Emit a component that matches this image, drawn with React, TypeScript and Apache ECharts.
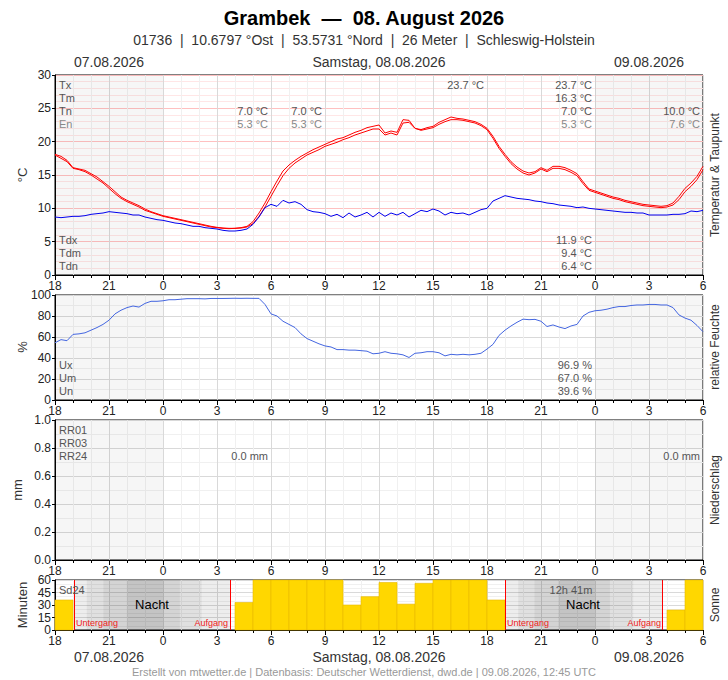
import { useEffect, useRef } from 'react'
import * as echarts from 'echarts'

// 20-minute steps from 07.08. 18:00 UTC to 09.08. 06:00 UTC
const tempA = [
  18.1, 17.8, 17.2, 16.1, 15.9, 15.7, 15.2, 14.7, 14.0,
  13.3, 12.5, 11.7, 11.2, 10.8, 10.4, 9.9, 9.5, 9.2,
  8.9, 8.7, 8.5, 8.3, 8.1, 7.9, 7.7, 7.5, 7.3,
  7.15, 7.05, 7.0, 7.0, 7.1, 7.3, 8.0, 9.3, 10.8,
  12.5, 14.1, 15.6, 16.5, 17.2, 17.8, 18.3, 18.8, 19.2,
  19.6, 20.0, 20.4, 20.6, 21.0, 21.4, 21.7, 22.1, 22.3,
  22.5, 21.3, 21.6, 21.4, 23.3, 23.2, 22.0, 21.8, 22.1,
  22.3, 22.9, 23.3, 23.7, 23.5, 23.4, 23.2, 23.0, 22.6,
  22.0, 20.8, 19.3, 18.1, 17.0, 16.2, 15.6, 15.3, 15.5,
  16.1, 15.7, 16.3, 16.3, 16.1, 15.7, 15.2, 14.0, 12.9,
  12.6, 12.3, 12.0, 11.7, 11.5, 11.2, 11.0, 10.8, 10.6,
  10.5, 10.4, 10.3, 10.4, 10.8, 11.8, 13.0, 13.8, 14.8,
  16.3,
]
const tempB = [
  18.0, 17.5, 17.0, 16.0, 15.8, 15.5, 15.0, 14.4, 13.8,
  13.0, 12.2, 11.5, 11.0, 10.6, 10.2, 9.7, 9.4, 9.1,
  8.8, 8.6, 8.4, 8.2, 8.0, 7.8, 7.6, 7.4, 7.2,
  7.1, 7.0, 6.95, 7.0, 7.05, 7.2, 7.7, 8.8, 10.2,
  11.8, 13.4, 14.9, 16.0, 16.8, 17.4, 18.0, 18.4, 18.8,
  19.3, 19.6, 19.9, 20.3, 20.6, 21.0, 21.3, 21.6, 21.9,
  21.9, 21.0, 21.3, 21.0, 22.8, 22.9, 22.0, 21.7, 21.9,
  22.1, 22.6, 23.0, 23.3, 23.3, 23.2, 23.0, 22.8, 22.4,
  21.8, 20.5, 19.0, 17.8, 16.7, 15.9, 15.3, 15.0, 15.3,
  15.9, 15.5, 16.0, 16.0, 15.8, 15.4, 14.9, 13.7, 12.7,
  12.4, 12.1, 11.8, 11.5, 11.3, 11.0, 10.8, 10.6, 10.4,
  10.3, 10.2, 10.1, 10.2, 10.5, 11.3, 12.5, 13.3, 14.3,
  15.8,
]
const dewPoint = [
  8.7, 8.6, 8.7, 8.8, 8.8, 8.9, 9.1, 9.2, 9.3,
  9.5, 9.4, 9.3, 9.2, 9.0, 9.0, 8.7, 8.5, 8.3,
  8.2, 8.0, 7.8, 7.7, 7.5, 7.3, 7.3, 7.1, 7.0,
  6.9, 6.7, 6.6, 6.6, 6.7, 6.9, 7.6, 8.7, 10.1,
  10.6, 10.3, 11.2, 10.8, 11.0, 10.6, 9.8, 9.5, 9.4,
  9.2, 8.8, 9.1, 8.6, 9.3, 8.7, 9.0, 9.4, 8.7,
  9.4, 8.8, 9.3, 9.0, 9.4, 8.7, 9.2, 9.7, 9.5,
  9.9, 9.6, 9.0, 9.4, 9.2, 9.3, 9.0, 9.4, 9.8,
  10.0, 11.1, 11.5, 11.9, 11.7, 11.5, 11.4, 11.3, 11.1,
  11.0, 10.8, 10.7, 10.5, 10.4, 10.3, 10.1, 10.2, 10.0,
  9.9, 9.8, 9.7, 9.6, 9.5, 9.4, 9.4, 9.3, 9.3,
  9.0, 9.0, 9.0, 9.0, 9.1, 9.1, 9.2, 9.6, 9.5,
  9.7,
]
const humidity = [
  54.5, 57.5, 56.5, 62.5, 63.0, 64.0, 66.5, 69.0, 72.0,
  76.0, 82.0, 85.5, 88.0, 89.5, 88.5, 92.0, 94.0, 94.0,
  94.5, 95.5, 95.5, 96.0, 96.5, 96.5, 96.5, 96.3, 96.7,
  96.7, 96.7, 96.8, 96.9, 96.8, 96.9, 96.8, 96.8, 91.0,
  82.0, 80.0, 75.0, 72.0, 69.0, 63.0, 58.5, 56.0, 53.5,
  51.5, 50.5, 48.0, 48.0, 47.5, 47.5, 47.0, 46.5, 44.0,
  44.5, 46.0, 44.5, 44.0, 43.0, 40.5, 44.5, 45.0, 46.0,
  46.0, 45.0, 42.0, 43.5, 43.0, 43.5, 43.0, 43.5, 44.5,
  48.5, 53.0, 61.5, 66.5, 70.5, 74.0, 77.0, 76.5, 76.8,
  75.0, 70.0, 71.5, 69.5, 68.0, 70.5, 72.0, 80.0, 83.5,
  85.0, 85.5, 86.5, 88.0, 89.0, 89.0, 90.0, 90.5, 90.5,
  91.0, 91.0, 90.5, 90.5, 88.0, 81.0, 78.0, 76.0, 71.0,
  65.0,
]
// hourly sums, 18-19 UTC first
const precip = [
  0, 0, 0, 0, 0, 0, 0, 0, 0, 0, 0, 0, 0, 0, 0, 0, 0, 0,
  0, 0, 0, 0, 0, 0, 0, 0, 0, 0, 0, 0, 0, 0, 0, 0, 0, 0,
]
const sunMinutes = [
  36, 0, 0, 0, 0, 0, 0, 0, 0, 0, 33, 60, 60, 60, 60, 60, 30, 40,
  57, 31, 56, 60, 60, 60, 36, 0, 0, 0, 0, 0, 0, 0, 0, 0, 24, 60,
]
const hourLabels = ['18', '21', '0', '3', '6', '9', '12', '15', '18', '21', '0', '3', '6']

// hours after 07.08. 18:00
const dayShade = [[0, 6], [30, 36]]
const sunEvents = [1.07, 9.72, 25.04, 33.74]
const nightEdges = [
  [1.07, 1.76, 2.68, 3.98, 6.02, 6.94, 8.15, 9.72],
  [25.04, 25.73, 26.63, 27.96, 30.0, 30.83, 32.13, 33.74],
]
const nightShade = [0.07, 0.12, 0.17, 0.23, 0.17, 0.12, 0.07]

const tempLabels = ['Tx', 'Tm', 'Tn', 'En']
const dewLabels = ['Tdx', 'Tdm', 'Tdn']
const humLabels = ['Ux', 'Um', 'Un']
const rainLabels = ['RR01', 'RR03', 'RR24']
const tempStats = ['23.7 °C', '16.3 °C', '7.0 °C', '5.3 °C']
const dewStats = ['11.9 °C', '9.4 °C', '6.4 °C']
const humStats = ['96.9 %', '67.0 %', '39.6 %']

const FONT = "'Liberation Sans', Arial, sans-serif"
const STEP = 1 / 3

const grids = [
  { top: 75, height: 200 },
  { top: 295, height: 105 },
  { top: 420, height: 140 },
  { top: 580, height: 50 },
]

function txt(x: number, y: number, text: string, style: any = {}) {
  return {
    type: 'text',
    x,
    y,
    z: 100,
    silent: true,
    style: {
      text,
      fill: '#555',
      fontSize: 11,
      fontFamily: FONT,
      align: 'left',
      verticalAlign: 'middle',
      ...style,
    },
  }
}

function vtxt(x: number, y: number, text: string, fontSize = 13) {
  return {
    type: 'text',
    x,
    y,
    z: 100,
    rotation: Math.PI / 2,
    silent: true,
    style: { text, fill: '#333', fontSize, fontFamily: FONT, align: 'center', verticalAlign: 'middle' },
  }
}

const shadeArea = {
  silent: true,
  itemStyle: { color: 'rgba(0,0,0,0.035)' },
  data: dayShade.map(([a, b]) => [{ xAxis: a }, { xAxis: b }]),
}

function xAxisFor(i: number) {
  return {
    type: 'value',
    gridIndex: i,
    min: 0,
    max: 36,
    interval: 3,
    axisLine: { show: true, onZero: false, lineStyle: { color: '#000' } },
    axisTick: { show: true, length: 5, lineStyle: { color: '#000' } },
    minorTick: { show: true, splitNumber: 3, length: 3, lineStyle: { color: '#000' } },
    axisLabel: {
      color: '#222',
      fontSize: 12,
      fontFamily: FONT,
      margin: 5,
      lineHeight: 12,
      formatter: (v: number) => hourLabels[Math.round(v / 3)] ?? '',
    },
    splitLine: { show: true, lineStyle: { color: '#d9d9d9' } },
    minorSplitLine: { show: true, lineStyle: { color: '#f0f0f0' } },
  }
}

function yAxisFor(i: number, max: number, interval: number, minor: number, major: string, minorColor: string, digits = 0) {
  return {
    type: 'value',
    gridIndex: i,
    min: 0,
    max,
    interval,
    axisLine: { show: true, lineStyle: { color: '#000' } },
    axisTick: { show: true, length: 3, lineStyle: { color: '#000' } },
    minorTick: { show: false, splitNumber: minor },
    axisLabel: {
      color: '#222',
      fontSize: 12,
      fontFamily: FONT,
      margin: 4,
      lineHeight: 10,
      formatter: (v: number) => v.toFixed(digits),
    },
    splitLine: { show: true, lineStyle: { color: major } },
    minorSplitLine: { show: true, lineStyle: { color: minorColor } },
  }
}

const pairs = (arr: number[]) => arr.map((v, i) => [i * STEP, v])

function hourRects(color: string, stroke: string) {
  return (params: any, api: any) => {
    const t = api.value(0)
    const v = api.value(1)
    if (!v) return null
    const p0 = api.coord([t, v])
    const p1 = api.coord([t + 1, 0])
    return {
      type: 'rect',
      shape: { x: p0[0], y: p0[1], width: p1[0] - p0[0], height: p1[1] - p0[1] },
      style: { fill: color, stroke, lineWidth: 0.6 },
    }
  }
}

function WeatherChart() {
  const chartRef = useRef<HTMLDivElement>(null)

  useEffect(() => {
    if (!chartRef.current) return
    const chart = echarts.init(chartRef.current, null, { renderer: 'svg' })

    const nightAreas = nightEdges.flatMap((edges) =>
      nightShade.map((a, k) => [
        { xAxis: edges[k], itemStyle: { color: `rgba(0,0,0,${a})` } },
        { xAxis: edges[k + 1] },
      ]),
    )

    const graphics: any[] = [
      txt(364, 18, 'Grambek  —  08. August 2026', { align: 'center', fontSize: 20, fontWeight: 'bold', fill: '#000' }),
      txt(364, 40, '01736  |  10.6797 °Ost  |  53.5731 °Nord  |  26 Meter  |  Schleswig-Holstein', {
        align: 'center', fontSize: 14, fill: '#333',
      }),
      txt(109, 62, '07.08.2026', { align: 'center', fontSize: 14, fill: '#333' }),
      txt(379, 62, 'Samstag, 08.08.2026', { align: 'center', fontSize: 14, fill: '#333' }),
      txt(649, 62, '09.08.2026', { align: 'center', fontSize: 14, fill: '#333' }),
      txt(109, 657, '07.08.2026', { align: 'center', fontSize: 14, fill: '#333' }),
      txt(379, 657, 'Samstag, 08.08.2026', { align: 'center', fontSize: 14, fill: '#333' }),
      txt(649, 657, '09.08.2026', { align: 'center', fontSize: 14, fill: '#333' }),
      txt(364, 672, 'Erstellt von mtwetter.de | Datenbasis: Deutscher Wetterdienst, dwd.de | 09.08.2026, 12:45 UTC', {
        align: 'center', fontSize: 11, fill: '#999',
      }),
      vtxt(22, 175, '°C'),
      vtxt(22, 347, '%'),
      vtxt(17, 490, 'mm'),
      vtxt(22, 605, 'Minuten'),
      vtxt(715, 175, 'Temperatur & Taupunkt', 12),
      vtxt(715, 347, 'relative Feuchte', 12),
      vtxt(715, 490, 'Niederschlag', 12),
      vtxt(715, 605, 'Sonne', 12),
      ...tempLabels.map((s, k) => txt(59, 85 + k * 13, s, k === 3 ? { fill: '#888' } : {})),
      ...dewLabels.map((s, k) => txt(59, 240 + k * 13, s)),
      ...humLabels.map((s, k) => txt(59, 365 + k * 13, s)),
      ...rainLabels.map((s, k) => txt(59, 430 + k * 13, s)),
      txt(268, 111, '7.0 °C', { align: 'right' }),
      txt(268, 124, '5.3 °C', { align: 'right', fill: '#888' }),
      txt(322, 111, '7.0 °C', { align: 'right' }),
      txt(322, 124, '5.3 °C', { align: 'right', fill: '#888' }),
      txt(484, 85, '23.7 °C', { align: 'right' }),
      ...tempStats.map((s, k) => txt(592, 85 + k * 13, s, { align: 'right', fill: k === 3 ? '#888' : '#555' })),
      ...dewStats.map((s, k) => txt(592, 240 + k * 13, s, { align: 'right' })),
      txt(700, 111, '10.0 °C', { align: 'right' }),
      txt(700, 124, '7.6 °C', { align: 'right', fill: '#888' }),
      ...humStats.map((s, k) => txt(592, 365 + k * 13, s, { align: 'right' })),
      txt(268, 456, '0.0 mm', { align: 'right' }),
      txt(700, 456, '0.0 mm', { align: 'right' }),
      txt(59, 590, 'Sd24', { fontSize: 11 }),
      txt(571, 590, '12h 41m', { align: 'center', fontSize: 11 }),
      txt(152, 604, 'Nacht', { align: 'center', fontSize: 13, fill: '#000' }),
      txt(583, 604, 'Nacht', { align: 'center', fontSize: 13, fill: '#000' }),
      txt(76, 623, 'Untergang', { fontSize: 9, fill: '#ee2222' }),
      txt(228, 623, 'Aufgang', { align: 'right', fontSize: 9, fill: '#ee2222' }),
      txt(507, 623, 'Untergang', { fontSize: 9, fill: '#ee2222' }),
      txt(661, 623, 'Aufgang', { align: 'right', fontSize: 9, fill: '#ee2222' }),
    ]

    chart.setOption({
      animation: false,
      grid: grids.map((g) => ({
        left: 55,
        width: 648,
        top: g.top,
        height: g.height,
        show: true,
        borderColor: '#000',
        borderWidth: 1,
        backgroundColor: 'transparent',
      })),
      xAxis: grids.map((_, i) => xAxisFor(i)),
      yAxis: [
        yAxisFor(0, 30, 5, 5, '#ffc0c0', '#ffe6e6'),
        yAxisFor(1, 100, 20, 2, '#d9d9d9', '#f0f0f0'),
        yAxisFor(2, 1, 0.2, 2, '#d9d9d9', '#f0f0f0', 1),
        yAxisFor(3, 60, 15, 3, '#d9d9d9', '#f0f0f0'),
      ],
      series: [
        {
          type: 'line',
          xAxisIndex: 0,
          yAxisIndex: 0,
          data: pairs(tempA),
          symbol: 'none',
          lineStyle: { color: '#ff0000', width: 1 },
          markArea: shadeArea,
          z: 3,
        },
        {
          type: 'line',
          xAxisIndex: 0,
          yAxisIndex: 0,
          data: pairs(tempB),
          symbol: 'none',
          lineStyle: { color: '#ff0000', width: 1 },
          z: 3,
        },
        {
          type: 'line',
          xAxisIndex: 0,
          yAxisIndex: 0,
          data: pairs(dewPoint),
          symbol: 'none',
          lineStyle: { color: '#0000ee', width: 1 },
          z: 3,
        },
        {
          type: 'line',
          xAxisIndex: 1,
          yAxisIndex: 1,
          data: pairs(humidity),
          symbol: 'none',
          lineStyle: { color: '#4466e0', width: 1 },
          markArea: shadeArea,
          z: 3,
        },
        {
          type: 'custom',
          xAxisIndex: 2,
          yAxisIndex: 2,
          data: precip.map((v, i) => [i, v]),
          encode: { x: 0, y: 1 },
          renderItem: hourRects('#3070ff', '#2050c0'),
          markArea: shadeArea,
        },
        {
          type: 'custom',
          xAxisIndex: 3,
          yAxisIndex: 3,
          data: sunMinutes.map((v, i) => [i, v]),
          encode: { x: 0, y: 1 },
          renderItem: hourRects('#ffd700', '#e8b800'),
          markArea: { silent: true, data: nightAreas },
          markLine: {
            silent: true,
            symbol: ['none', 'none'],
            label: { show: false },
            lineStyle: { color: '#ff0000', type: 'solid', width: 1 },
            data: sunEvents.map((v) => ({ xAxis: v })),
          },
          z: 3,
        },
      ],
      graphic: graphics,
    })

    return () => {
      chart.dispose()
    }
  }, [])

  return (
    <div
      ref={chartRef}
      style={{ position: 'absolute', left: 0, top: 0, width: 728, height: 680, background: '#fff' }}
    />
  )
}

export default WeatherChart
